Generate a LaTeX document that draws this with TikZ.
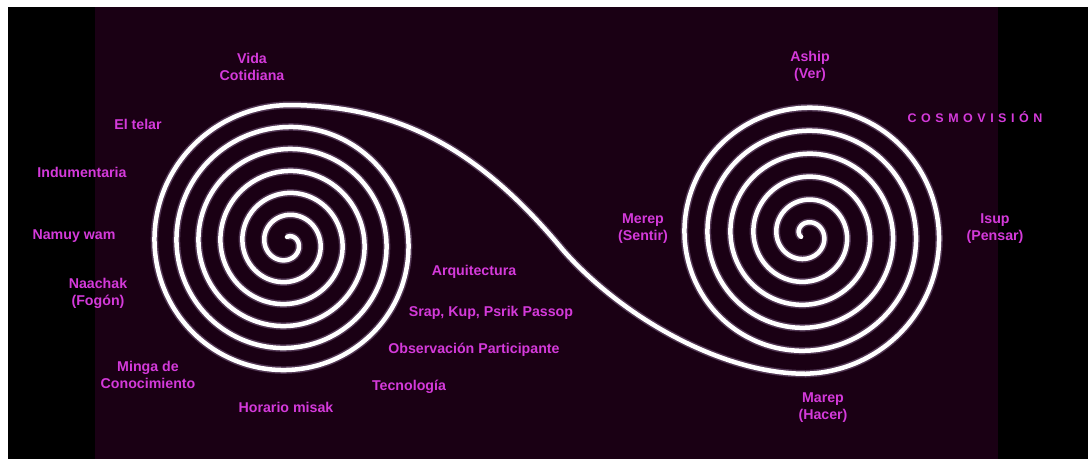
\documentclass[tikz,border=0pt]{standalone}
\usepackage{fontspec}
\setmainfont{Liberation Sans}
\usepackage{tikz}

\definecolor{fondo}{RGB}{26,0,20}
\definecolor{rosa}{RGB}{212,58,218}
\definecolor{brillo}{RGB}{150,120,160}

\begin{document}
\begin{tikzpicture}[
        x=1pt, y=-1pt,                  % coordenadas en pixeles de la imagen
        espiral/.style={                % linea blanca de las espirales
            draw=white,
            line width=4.5pt,
            line cap=round,
            line join=round,
            preaction={draw=brillo, line width=7.5pt, opacity=0.45}
        },
        etiqueta/.style={               % textos en rosa
            text=rosa,
            inner sep=0pt,
            align=center,
            font=\bfseries\fontsize{14.2}{17}\selectfont
        }
    ]

    % --- Fondo ---
    \useasboundingbox (0,0) rectangle (1088,459);
    \fill[black] (0,0) rectangle (1088,459);
    \fill[fondo] (95,7) rectangle (998,459);
    \fill[white] (0,0) rectangle (1088,7);
    \fill[white] (0,0) rectangle (8,459);

    % --- Puntos de union ---
    \coordinate (finIzq) at (287,105);
    \coordinate (centroS) at (563,250);
    \coordinate (finDer) at (806,373.75);

    % --- Espirales y curva en S ---
    \draw[espiral]
        plot[domain=-90:2070, samples=400, smooth]
            ({287+(11.5+22*(\x/360))*cos(\x)}, {243+(11.5+22*(\x/360))*sin(\x)})
        .. controls (400,105) and (480,150) .. (centroS)
        .. controls (620,315) and (720,374) .. (finDer)
        -- plot[domain=1890:-200, samples=400, smooth]
            ({806+(18+23*(\x/360))*cos(\x)}, {235+(18+23*(\x/360))*sin(\x)});

    % --- Etiquetas espiral izquierda ---
    \node[etiqueta] (vida)    at (252,66.5) {Vida\\Cotidiana};
    \node[etiqueta] (telar)   at (138,124)  {El telar};
    \node[etiqueta] (indum)   at (82,172)   {Indumentaria};
    \node[etiqueta] (namuy)   at (74,236)   {Namuy wam};
    \node[etiqueta] (naachak) at (98,293.5) {Naachak\\(Fogón)};
    \node[etiqueta] (minga)   at (148,375)  {Minga de\\Conocimiento};
    \node[etiqueta] (horario) at (286,407)  {Horario misak};

    % --- Etiquetas del centro ---
    \node[etiqueta] (tecno)   at (409,387)  {Tecnología};
    \node[etiqueta] (observ)  at (474,350)  {Observación Participante};
    \node[etiqueta] (srap)    at (491,313)  {Srap, Kup, Psrik Passop};
    \node[etiqueta] (arqui)   at (474,272)  {Arquitectura};

    % --- Etiquetas espiral derecha ---
    \node[etiqueta] (merep)   at (643,228.5) {Merep\\(Sentir)};
    \node[etiqueta] (aship)   at (810,66.5)  {Aship\\(Ver)};
    \node[etiqueta] (isup)    at (995,228.5) {Isup\\(Pensar)};
    \node[etiqueta] (marep)   at (823,408)   {Marep\\(Hacer)};
    \node[etiqueta, font=\bfseries\fontsize{12.5}{14}\selectfont\addfontfeature{LetterSpace=36}]
        (cosmo) at (975,117) {COSMOVISIÓN};

\end{tikzpicture}
\end{document}
